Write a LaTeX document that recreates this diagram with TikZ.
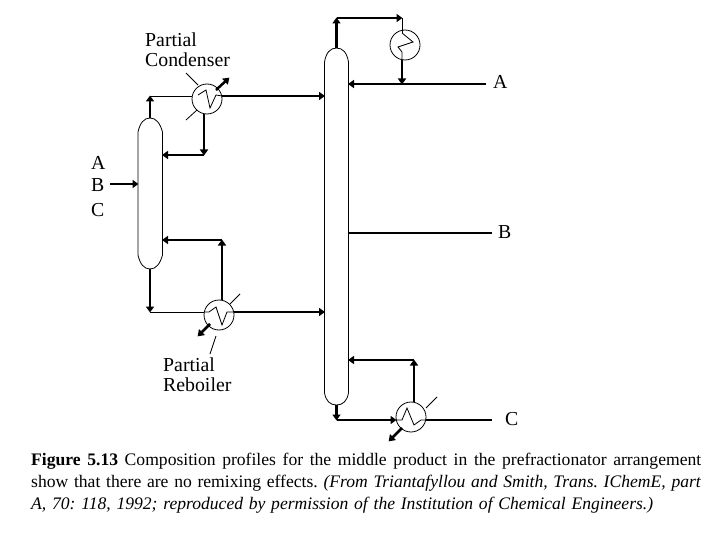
\documentclass[tikz,border=0pt]{standalone}
\usepackage{fontspec}
\setmainfont{Liberation Serif}
\usetikzlibrary{arrows.meta}
\tikzset{
  x=1pt,y=-1pt,
  thinline/.style={draw=black,line width=0.8pt},
  flow/.style={draw=black,line width=2.5pt},
  flowa/.style={flow,-{Triangle[length=6pt,width=8pt]},shorten >=-0.5pt},
  hx/.style={circle,draw=black,line width=0.8pt,minimum size=30pt,inner sep=0pt},
  lab/.style={inner sep=0pt,anchor=base west,font=\fontsize{19.8}{21}\selectfont},
  captext/.style={inner sep=0pt,anchor=base west,font=\fontsize{17.6}{19}\selectfont},
}
\begin{document}
\frenchspacing
\begin{tikzpicture}
\useasboundingbox (0,0) rectangle (720,540);
\fill[white] (0,0) rectangle (720,540);
% columns
\draw[thinline] (138,132) .. controls (140,123) and (144,118) .. (150,118) .. controls (156,118) and (160,123) .. (162.5,132) -- (162.5,255) .. controls (160,264) and (156,269) .. (150,269) .. controls (144,269) and (140,264) .. (138,255) -- cycle;
\draw[thinline] (324.5,62) .. controls (326,53) and (330,48) .. (336.5,48) .. controls (343,48) and (347,53) .. (348.5,62) -- (348.5,393) .. controls (347,401) and (343,405) .. (336.5,405) .. controls (330,405) and (326,401) .. (324.5,393) -- cycle;
% exchangers
\node[hx] (pc) at (207,99) {};
\node[hx] (tc) at (405,45) {};
\node[hx] (pr) at (219,315) {};
\node[hx] (br) at (411,417) {};
% anchor points
\coordinate (lct) at (150,118);
\coordinate (lcb) at (150,269);
\coordinate (rct) at (336.5,48);
\coordinate (rcb) at (336.5,405);
\coordinate (lc1) at (150,96);
\coordinate (pcl) at (192,96);
\coordinate (pcr) at (222,96);
\coordinate (pcb) at (204,114);
\coordinate (r1) at (324.5,96);
\coordinate (pcd) at (204,155);
\coordinate (l1) at (162.5,155);
\coordinate (rt1) at (336.5,18);
\coordinate (tct) at (402,18);
\coordinate (tcb) at (402,60);
\coordinate (tcd) at (402,84);
\coordinate (r2) at (348.5,84);
\coordinate (aend) at (486,84);
\coordinate (r3) at (348.5,233);
\coordinate (bend) at (492,233);
\coordinate (lc2) at (150,312);
\coordinate (prl) at (204,312);
\coordinate (prr) at (234,312);
\coordinate (r4) at (324.5,312);
\coordinate (pru) at (222,300);
\coordinate (pru2) at (222,240);
\coordinate (l2) at (162.5,240);
\coordinate (rb1) at (336.5,420);
\coordinate (brl) at (396,420);
\coordinate (brr) at (426,420);
\coordinate (cend) at (492,420);
\coordinate (bru) at (414,402);
\coordinate (bru2) at (414,360);
\coordinate (r5) at (348.5,360);
\coordinate (feed) at (110,184);
\coordinate (l3) at (138,184);
% flows
\draw[flowa] (feed) -- (l3);
\draw[flowa] (lct) -- (lc1);
\draw[thinline] (lc1) -- (pcl);
\draw[flowa] (pcr) -- (r1);
\draw[flowa] (pcb) -- (pcd);
\draw[flowa] (pcd) -- (l1);
\draw[flowa] (rct) -- (rt1);
\draw[flowa] (rt1) -- (tct);
\draw[thinline] (tct) -- (402,33);
\draw[flowa] (tcb) -- (tcd);
\draw[flowa] (aend) -- (r2);
\draw[flow] (r3) -- (bend);
\draw[flowa] (lcb) -- (lc2);
\draw[thinline] (lc2) -- (prl);
\draw[flowa] (prr) -- (r4);
\draw[flowa] (pru) -- (pru2);
\draw[flowa] (pru2) -- (l2);
\draw[flowa] (rcb) -- (rb1);
\draw[flowa] (rb1) -- (brl);
\draw[flow] (brr) -- (cend);
\draw[flowa] (bru) -- (bru2);
\draw[flowa] (bru2) -- (r5);
% coolant arrows
\coordinate (c1a) at (216,90); \coordinate (c1b) at (229,78);
\coordinate (c2a) at (210,324); \coordinate (c2b) at (198,336);
\coordinate (c3a) at (402,428); \coordinate (c3b) at (389,441);
\draw[flowa] (c1a) -- (c1b);
\draw[flowa] (c2a) -- (c2b);
\draw[flowa] (c3a) -- (c3b);
% coils
\draw[thinline] (198,95) -- (206,90) -- (210,108) -- (216,95) -- (222,96);
\draw[thinline] (402,33) -- (413,42) -- (398,47) -- (402,52) -- (402,60);
\draw[thinline] (204,312) -- (209,312) -- (216,307) -- (222,325) -- (227,312) -- (234,312);
\draw[thinline] (396,420) -- (402,420) -- (407,408) -- (414,425) -- (421,420) -- (426,420);
% leader ticks
\draw[thinline] (186,73) -- (198,85);
\draw[thinline] (186,120) -- (197,110);
\draw[thinline] (230,304) -- (240,294);
\draw[thinline] (216,336) -- (210,354);
\draw[thinline] (426,408) -- (437,397);
% labels
\node[lab] (t1) at (145,47) {Partial};
\node[lab] (t2) at (145,67) {Condenser};
\node[lab] (t3) at (163,371) {Partial};
\node[lab] (t4) at (163,391) {Reboiler};
\node[lab] (a1) at (91,170) {A};
\node[lab] (a2) at (91,192) {B};
\node[lab] (a3) at (91,216) {C};
\node[lab] (oa) at (493,89) {A};
\node[lab] (ob) at (498,239) {B};
\node[lab] (oc) at (505,425) {C};
\node[captext] (c1) at (31,465) {\makebox[670pt][s]{\textbf{Figure 5.13} Composition profiles for the middle product in the prefractionator arrangement}};
\node[captext] (c2) at (31,487) {\makebox[670pt][s]{show that there are no remixing effects. \textit{(From Triantafyllou and Smith, Trans. IChemE, part}}};
\node[captext] (c3) at (31,509) {\makebox[622pt][s]{\textit{A, 70: 118, 1992; reproduced by permission of the Institution of Chemical Engineers.)}}};
\end{tikzpicture}
\end{document}
